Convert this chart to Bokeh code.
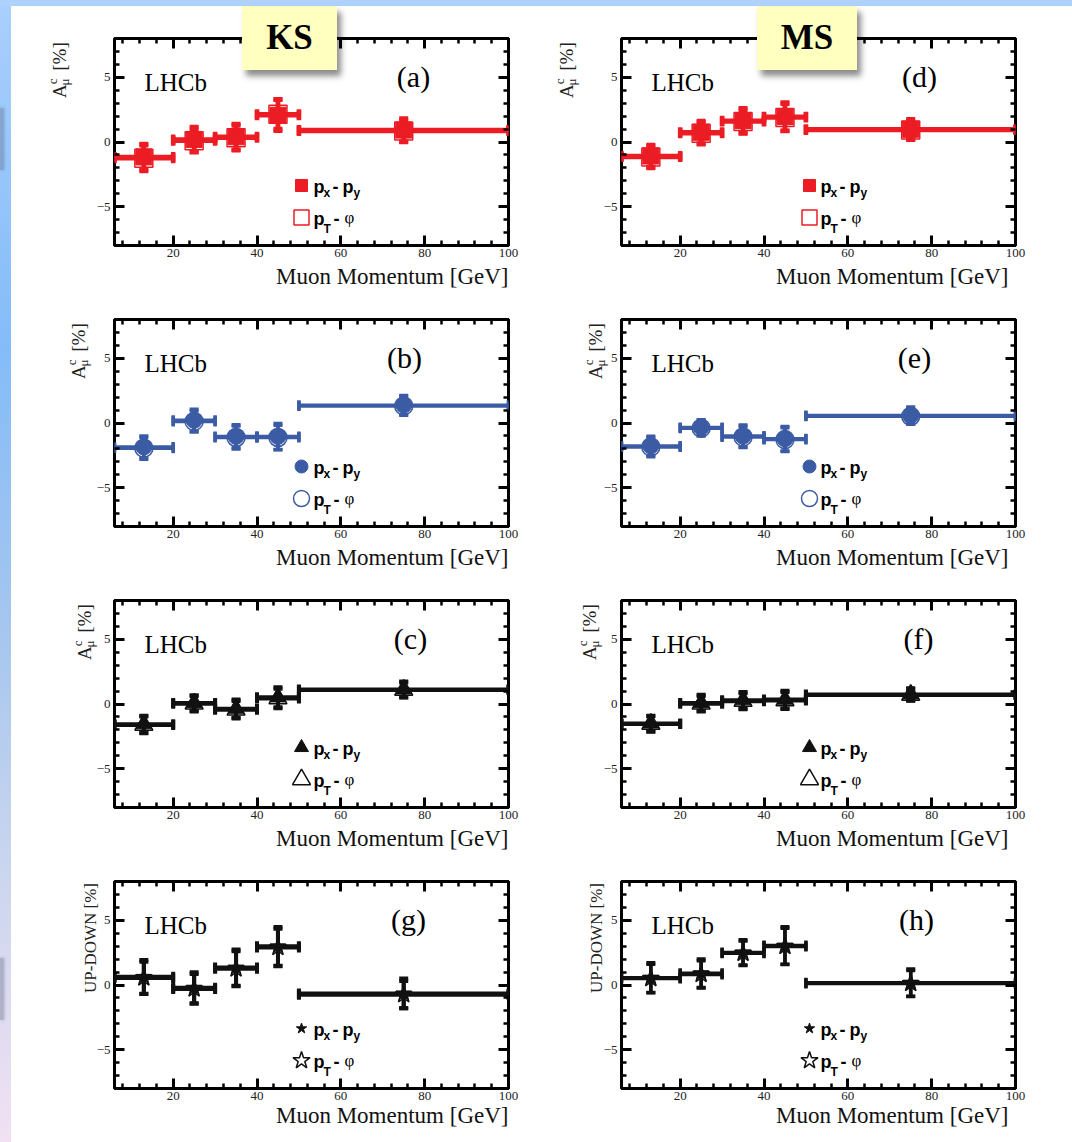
from math import pi
from bokeh.plotting import figure
from bokeh.models import (Range1d, FixedTicker, LinearAxis, Label, Div, Title,
                          ColumnDataSource, CustomJSTickFormatter)
from bokeh.layouts import row, column
from bokeh.embed import file_html
from bokeh.resources import INLINE

# ---------------- data ----------------
BIN_CENTER = [13, 25, 35, 45, 75]
BIN_LOW = [6, 20, 30, 40, 50]
BIN_HIGH = [20, 30, 40, 50, 100]

X_TICKS = [20, 40, 60, 80, 100]
Y_TICKS = [-5, 0, 5]

# (a) KS, red squares
KS_RED_PXPY = [-1.15, 0.2, 0.4, 2.07, 0.92]
KS_RED_PXPY_ERR = [1.0, 0.95, 1.0, 1.2, 0.9]
KS_RED_PTPHI = [-1.25, 0.1, 0.32, 2.15, 0.85]
KS_RED_PTPHI_ERR = [1.0, 0.9, 0.95, 1.15, 0.85]
# (d) MS, red squares
MS_RED_PXPY = [-1.08, 0.75, 1.65, 1.96, 0.98]
MS_RED_PXPY_ERR = [0.85, 0.87, 0.95, 1.1, 0.78]
MS_RED_PTPHI = [-1.15, 0.68, 1.58, 1.9, 0.92]
MS_RED_PTPHI_ERR = [0.85, 0.85, 0.92, 1.05, 0.75]
# (b) KS, blue circles
KS_BLUE_PXPY = [-1.85, 0.21, -1.04, -1.04, 1.38]
KS_BLUE_PXPY_ERR = [0.85, 0.85, 0.9, 1.0, 0.75]
KS_BLUE_PTPHI = [-1.95, 0.12, -1.12, -1.12, 1.32]
KS_BLUE_PTPHI_ERR = [0.85, 0.82, 0.88, 0.95, 0.72]
# (e) MS, blue circles
MS_BLUE_PXPY = [-1.77, -0.34, -1.01, -1.22, 0.58]
MS_BLUE_PXPY_ERR = [0.75, 0.6, 0.85, 0.95, 0.65]
MS_BLUE_PTPHI = [-1.85, -0.4, -1.08, -1.28, 0.52]
MS_BLUE_PTPHI_ERR = [0.75, 0.6, 0.82, 0.92, 0.62]
# (c) KS, black triangles
KS_TRI_PXPY = [-1.56, 0.08, -0.36, 0.52, 1.13]
KS_TRI_PXPY_ERR = [0.65, 0.6, 0.7, 0.78, 0.6]
KS_TRI_PTPHI = [-1.62, 0.02, -0.45, 0.42, 1.08]
KS_TRI_PTPHI_ERR = [0.65, 0.6, 0.68, 0.75, 0.58]
# (f) MS, black triangles
MS_TRI_PXPY = [-1.5, 0.08, 0.29, 0.34, 0.74]
MS_TRI_PXPY_ERR = [0.6, 0.63, 0.63, 0.68, 0.47]
MS_TRI_PTPHI = [-1.55, 0.02, 0.22, 0.27, 0.7]
MS_TRI_PTPHI_ERR = [0.6, 0.6, 0.62, 0.66, 0.45]
# (g) KS, stars (UP-DOWN)
KS_STAR_PXPY = [0.63, -0.21, 1.35, 2.99, -0.65]
KS_STAR_PXPY_ERR = [1.3, 1.2, 1.4, 1.5, 1.15]
KS_STAR_PTPHI = [0.55, -0.3, 1.25, 2.9, -0.75]
KS_STAR_PTPHI_ERR = [1.25, 1.15, 1.35, 1.45, 1.05]
# (h) MS, stars (UP-DOWN)
MS_STAR_PXPY = [0.57, 0.91, 2.52, 3.05, 0.18]
MS_STAR_PXPY_ERR = [1.15, 1.1, 0.98, 1.45, 1.05]
MS_STAR_PTPHI = [0.5, 0.82, 2.45, 2.98, 0.12]
MS_STAR_PTPHI_ERR = [1.1, 1.05, 0.95, 1.4, 1.0]

RED = "#ec1c24"
BLUE = "#3b5ba5"
BLACK = "#111111"

SERIF = "Liberation Serif"
SANS = "Liberation Sans"

X_MINOR = list(range(8, 101, 4))
Y_MINOR = list(range(-8, 9))

# page geometry of the plot frames
COL_FRAME_LEFT = [114, 621]
ROW_FRAME_TOP = [38, 319, 600, 881]
FRAME_W = 394
FRAME_H = 207

ROW_TOP = [32, 16, 16, 16]
ROW_BOT = [58, 58, 58, 54]
ROW_H = [t + FRAME_H + b for t, b in zip(ROW_TOP, ROW_BOT)]


def style_axis(ax, labels):
    ax.axis_line_color = None
    ax.major_tick_in = 10
    ax.major_tick_out = 0
    ax.minor_tick_in = 5
    ax.minor_tick_out = 0
    ax.major_tick_line_width = 3
    ax.minor_tick_line_width = 2.5
    ax.major_tick_line_color = "black"
    ax.minor_tick_line_color = "black"
    ax.major_label_text_font = SERIF
    ax.major_label_text_color = "#222222"
    if labels:
        ax.major_label_text_font_size = "13px"
    else:
        ax.formatter = CustomJSTickFormatter(code="return ''")
        ax.major_label_text_font_size = "1px"
        ax.major_label_standoff = 0


def lab(p, x, y, text, size, font=SERIF, style="normal", angle=0.0,
        align="left", baseline="alphabetic", color="black"):
    p.add_layout(Label(x=x, y=y, x_units="screen", y_units="screen", text=text,
                       text_font=font, text_font_size=f"{size}px",
                       text_font_style=style, angle=angle, text_align=align,
                       text_baseline=baseline, text_color=color))


def draw_series(p, vals, errs, color, lw, marker, size, filled):
    src = ColumnDataSource(dict(
        x=BIN_CENTER, xl=BIN_LOW, xh=BIN_HIGH, y=vals,
        lo=[v - e for v, e in zip(vals, errs)],
        hi=[v + e for v, e in zip(vals, errs)]))
    p.segment(x0="xl", y0="y", x1="xh", y1="y", source=src,
              line_color=color, line_width=lw)
    p.segment(x0="x", y0="lo", x1="x", y1="hi", source=src,
              line_color=color, line_width=lw)
    for yk in ("lo", "hi"):
        p.scatter(x="x", y=yk, marker="dash", size=9, source=src,
                  line_color=color, line_width=lw)
    for xk in ("xl", "xh"):
        p.scatter(x=xk, y="y", marker="dash", angle=pi / 2, size=10, source=src,
                  line_color=color, line_width=lw)
    if filled:
        p.scatter(x="x", y="y", marker=marker, size=size, source=src,
                  fill_color=color, line_color=color, line_width=1)
    else:
        p.scatter(x="x", y="y", marker=marker, size=size, source=src,
                  fill_color=None, line_color=color, line_width=1.5)


def make_panel(col, ri, letter, color, marker, sz_f, sz_o, lw,
               px, pxe, pt, pte, letter_x, leg_sizes):
    left = col == 0
    width = 534 if left else 527
    bl, br = (103, 37) if left else (76, 57)
    p = figure(width=width, height=ROW_H[ri], x_range=Range1d(6, 100),
               y_range=Range1d(-8, 8), output_backend="svg",
               toolbar_location=None, x_axis_type=None, y_axis_type=None,
               min_border_left=bl, min_border_right=br,
               min_border_top=ROW_TOP[ri], min_border_bottom=ROW_BOT[ri])
    p.xgrid.grid_line_color = None
    p.ygrid.grid_line_color = None
    p.background_fill_color = "white"
    p.border_fill_color = "white"
    p.outline_line_color = "black"
    p.outline_line_width = 3
    p.outline_line_alpha = 1

    for loc, lbl in (("below", True), ("above", False)):
        ax = LinearAxis(ticker=FixedTicker(ticks=X_TICKS, minor_ticks=X_MINOR))
        style_axis(ax, lbl)
        if lbl:
            ax.major_label_standoff = 3
        p.add_layout(ax, loc)
    for loc, lbl in (("left", True), ("right", False)):
        ax = LinearAxis(ticker=FixedTicker(ticks=Y_TICKS, minor_ticks=Y_MINOR))
        style_axis(ax, lbl)
        if lbl:
            ax.major_label_standoff = 4
        p.add_layout(ax, loc)

    # x-axis title, right aligned under the frame
    p.add_layout(Title(text="Muon Momentum [GeV]", align="right",
                       vertical_align="top", offset=0 if left else 7,
                       standoff=8 if ri < 3 else 0, text_font=SERIF,
                       text_font_size="23px", text_font_style="normal",
                       text_color="#111111"), "below")

    draw_series(p, pt, pte, color, lw, marker, sz_o, False)
    draw_series(p, px, pxe, color, lw, marker, sz_f, True)

    # legend
    xs, xe = p.x_range.start, p.x_range.end
    ys, ye = p.y_range.start, p.y_range.end
    lx = xs + (187 if left else 188) / FRAME_W * (xe - xs)
    ly1 = ys + 60 / FRAME_H * (ye - ys)
    ly2 = ys + 28 / FRAME_H * (ye - ys)
    p.scatter(x=[lx], y=[ly1], marker=marker, size=leg_sizes[0],
              fill_color=color, line_color=color)
    p.scatter(x=[lx], y=[ly2], marker=marker, size=leg_sizes[1],
              fill_color=None, line_color=color, line_width=1.5)
    tx = 199
    lab(p, tx, 59, "p", 18, SANS, "bold")
    lab(p, tx + 10, 53, "x", 12, SANS, "bold")
    lab(p, tx + 19, 59, "-", 18, SANS, "bold")
    lab(p, tx + 29, 59, "p", 18, SANS, "bold")
    lab(p, tx + 40, 53, "y", 12, SANS, "bold")
    lab(p, tx, 27, "p", 18, SANS, "bold")
    lab(p, tx + 10, 17, "T", 12, SANS, "bold")
    lab(p, tx + 20, 27, "-", 18, SANS, "bold")
    lab(p, tx + 31, 28, "\u03c6", 17, SERIF)

    lab(p, 30, 163, "LHCb", 25)
    lab(p, letter_x, 169, f"({letter})", 30, align="center")
    return p


pa = make_panel(0, 0, "a", RED, "square", 16, 18, 4.5,
                KS_RED_PXPY, KS_RED_PXPY_ERR, KS_RED_PTPHI, KS_RED_PTPHI_ERR,
                299, (12, 15))
pd = make_panel(1, 0, "d", RED, "square", 16, 18, 4.5,
                MS_RED_PXPY, MS_RED_PXPY_ERR, MS_RED_PTPHI, MS_RED_PTPHI_ERR,
                298, (12, 15))
pb = make_panel(0, 1, "b", BLUE, "circle", 16, 18, 3.5,
                KS_BLUE_PXPY, KS_BLUE_PXPY_ERR, KS_BLUE_PTPHI, KS_BLUE_PTPHI_ERR,
                290, (13, 16))
pe = make_panel(1, 1, "e", BLUE, "circle", 16, 18, 3.5,
                MS_BLUE_PXPY, MS_BLUE_PXPY_ERR, MS_BLUE_PTPHI, MS_BLUE_PTPHI_ERR,
                293, (13, 16))
pc = make_panel(0, 2, "c", BLACK, "triangle", 16, 18, 4,
                KS_TRI_PXPY, KS_TRI_PXPY_ERR, KS_TRI_PTPHI, KS_TRI_PTPHI_ERR,
                296, (14, 18))
pf = make_panel(1, 2, "f", BLACK, "triangle", 16, 18, 4,
                MS_TRI_PXPY, MS_TRI_PXPY_ERR, MS_TRI_PTPHI, MS_TRI_PTPHI_ERR,
                297, (14, 18))
pg = make_panel(0, 3, "g", BLACK, "star", 16, 18, 4,
                KS_STAR_PXPY, KS_STAR_PXPY_ERR, KS_STAR_PTPHI, KS_STAR_PTPHI_ERR,
                294, (11, 18))
ph = make_panel(1, 3, "h", BLACK, "star", 16, 18, 3.5,
                MS_STAR_PXPY, MS_STAR_PXPY_ERR, MS_STAR_PTPHI, MS_STAR_PTPHI_ERR,
                295, (11, 18))

# ---- texts that sit outside the plot frames (overlay, page coordinates) ----
YLAB_DX = {(0, 0): -48, (1, 0): -48, (0, 1): -29, (1, 1): -19,
           (0, 2): -23, (1, 2): -25, (0, 3): -18, (1, 3): -19}


def ylabel_html(col, ri):
    base_x = COL_FRAME_LEFT[col] + YLAB_DX[(col, ri)]
    bottom = ROW_FRAME_TOP[ri] + FRAME_H
    if ri < 3:
        start_y = bottom - 147
        inner = ("A<span style='position:relative;font-size:13px;top:-9px;'>c</span>"
                 "<span style='position:relative;font-size:13px;left:-7px;top:3px;'>"
                 "\u03bc</span><span style='margin-left:-4px;'>&nbsp;[%]</span>")
        fs = 19
        left_px = base_x - 16
    else:
        start_y = bottom - 95
        inner = "UP-DOWN [%]"
        fs = 17
        left_px = base_x - 14
    return (f"<div style=\"position:absolute;left:{left_px}px;top:{start_y}px;"
            f"transform:rotate(-90deg);transform-origin:0 0;white-space:nowrap;"
            f"font-family:'{SERIF}';font-size:{fs}px;line-height:{fs}px;color:#222;\">"
            f"{inner}</div>")


def badge_html(text, x0, w):
    return (f"<div style=\"position:absolute;left:{x0}px;top:6px;width:{w}px;height:64px;"
            f"background:#ffffc0;box-shadow:4px 6px 6px rgba(0,0,0,0.45);"
            f"display:flex;align-items:center;justify-content:center;"
            f"font-family:'{SERIF}';font-weight:bold;font-size:35px;color:#000;\">"
            f"{text}</div>")


def tab_html(y0, h):
    return (f"<div style=\"position:absolute;left:0px;top:{y0}px;width:3px;height:{h}px;"
            f"background:rgba(90,100,125,0.35);box-shadow:1px 0 3px rgba(90,100,125,0.5);\"></div>")


overlay = "".join(ylabel_html(c, r) for c in (0, 1) for r in range(4))
overlay += badge_html("KS", 242, 95) + badge_html("MS", 757, 100)
overlay += tab_html(108, 62) + tab_html(958, 62)

top = Div(text=overlay, width=1072, height=6, margin=(0, 0, 0, 0),
          styles={"background-color": "#aed2fc", "overflow": "visible",
                  "position": "relative", "z-index": "10"})
left = Div(text="", width=11, height=1136, margin=(0, 0, 0, 0),
           styles={"background": "linear-gradient(to bottom, #a9cffd 0%, #84bcf8 30%, "
                                 "#a6c6ee 55%, #c9d5ee 75%, #f1e1f3 100%)"})
grid = column(row(pa, pd), row(pb, pe), row(pc, pf), row(pg, ph))
layout = column(top, row(left, grid))

open("out.html", "w").write(file_html(layout, INLINE))
